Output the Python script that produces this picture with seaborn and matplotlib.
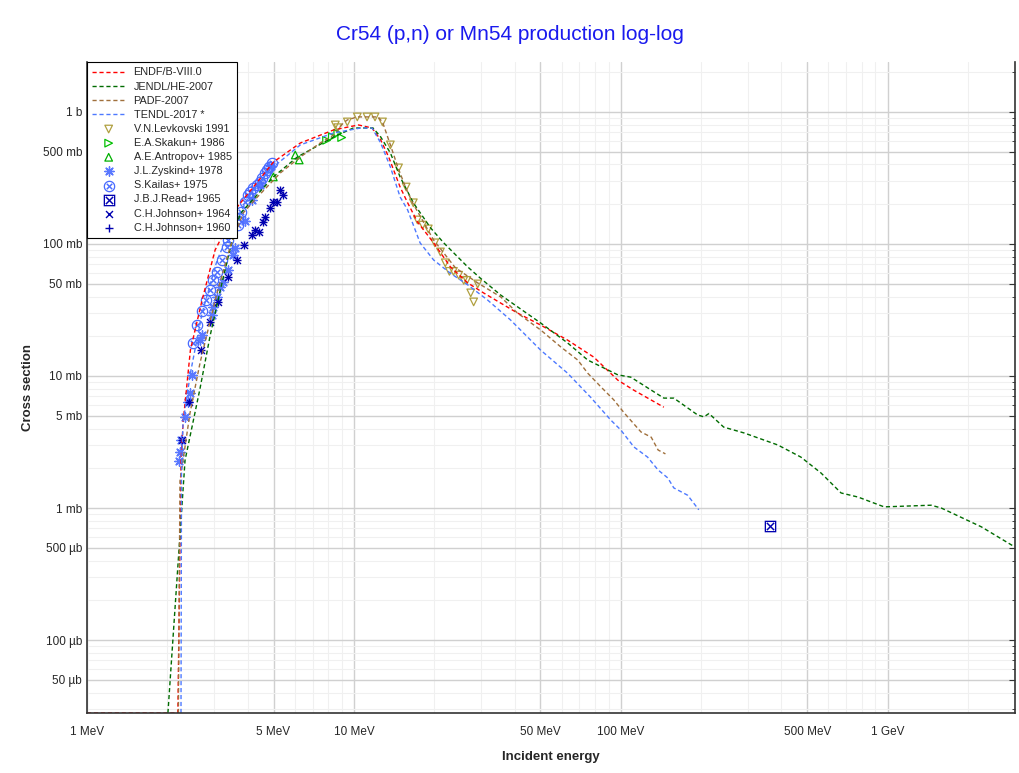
import numpy as np
import matplotlib
matplotlib.use("Agg")
import matplotlib.pyplot as plt
from matplotlib.ticker import FixedLocator, NullFormatter
import seaborn as sns

# evaluated curves: energy in MeV, cross section in mb (0 = below threshold)
endf_e = [1.0, 2.19, 2.22, 2.25, 2.29, 2.44, 2.70, 3.02, 3.65, 5.0, 6.3, 8.4, 10.4, 11.7, 12.6, 13.5,
          14.9, 15.9, 17.3, 19.9, 23.0, 26.7, 30.6, 41.0, 50.1, 63.2, 79.2, 97.5, 112, 145]
endf_xs = [0, 0, 0.25, 2.2, 4.4, 15.7, 37.7, 90, 190, 418, 582, 731, 797, 756, 614, 456,
           270, 205, 147, 102, 67, 50.7, 42.6, 30, 24.3, 18.7, 13.9, 9.3, 7.8, 5.8]

jendl_e = [2.01, 2.33, 2.65, 2.89, 3.16, 3.45, 3.75, 4.99, 6.14, 8.4, 9.95, 11.8, 12.6, 13.7, 14.9,
           16.7, 19.4, 21.7, 26.7, 29.8, 35.5, 50.1, 63.2, 75.2, 97.5, 109, 145, 158, 194, 205, 214,
           243, 290, 388, 473, 563, 669, 775, 970, 1456, 1588, 2244, 2980]
jendl_xs = [0.028, 2.3, 8.0, 20, 45, 95, 170, 322, 456, 647, 756, 756, 647, 489, 322,
            205, 132, 102, 67, 55, 41, 25.2, 17.8, 13.2, 10.2, 9.8, 6.8, 6.8, 5.07, 4.9, 5.2,
            4.1, 3.7, 3.0, 2.43, 1.84, 1.30, 1.21, 1.02, 1.05, 1.0, 0.72, 0.51]

padf_e = [2.20, 2.23, 2.43, 2.65, 2.84, 3.07, 3.44, 3.85, 4.35, 5.3, 6.3, 7.48, 8.4, 9.13, 9.45, 10.3,
          12.3, 12.8, 13.7, 14.6, 15.6, 16.6, 19.9, 24.0, 29.1, 35.5, 41.0, 50.1, 59.6, 69.0, 75.2,
          84.1, 94.1, 103, 119, 130, 138, 147]
padf_xs = [0.028, 1.6, 5.2, 12.5, 22.3, 42.6, 95, 172, 227, 345, 456, 582, 669, 826, 870, 917,
           917, 840, 563, 383, 270, 205, 107, 66, 50.7, 39.7, 30, 22.3, 16.6, 13.2, 10.5,
           8.3, 6.6, 5.25, 3.77, 3.44, 2.75, 2.57]

tendl_e = [2.25, 2.26, 2.29, 2.44, 2.70, 3.07, 3.44, 4.09, 4.99, 6.3, 8.4, 10.6, 11.7, 12.6, 13.7,
           14.9, 15.9, 17.7, 19.9, 23.0, 26.7, 31.7, 38.6, 50.1, 63.2, 77.1, 91.7, 100, 112, 126,
           138, 150, 158, 178, 196]
tendl_xs = [0.028, 2.0, 4.4, 10.5, 30, 75, 128, 235, 383, 563, 693, 756, 756, 582, 383,
            227, 181, 102, 75.6, 60, 49, 37.6, 26.6, 15.7, 10.5, 6.9, 4.64, 3.9, 2.9, 2.43,
            1.94, 1.69, 1.42, 1.25, 0.97]

# experimental data
levk_e = [8.52, 8.7, 9.45, 10.3, 11.2, 12.0, 12.8, 13.7, 14.7, 15.7, 16.7, 17.3, 18.1, 19.0, 20.1,
          21.1, 22.0, 22.8, 23.6, 24.7, 25.8, 26.5, 27.4, 28.1, 29.1]
levk_xs = [797, 760, 840, 917, 917, 917, 840, 563, 377, 270, 205, 152, 139, 130, 102,
           87, 72, 62, 62, 58, 53, 53, 42.6, 36.4, 49.8]
skakun_e = [7.9, 8.3, 8.7, 9.0]
skakun_xs = [610, 650, 690, 640]
antropov_e = [4.99, 6.03, 6.24]
antropov_xs = [322, 472, 433]
zyskind_e = [2.21, 2.23, 2.25, 2.33, 2.39, 2.44, 2.48, 2.65, 2.70, 2.94, 2.97, 3.07, 3.16, 3.24,
             3.38, 3.53, 3.59, 3.9, 4.16, 4.46, 4.9]
zyskind_xs = [2.27, 2.65, 3.27, 4.9, 6.35, 7.4, 10.2, 18.7, 20.5, 29.0, 33.3, 39.7, 47.2, 51.5,
              63.6, 82.6, 93.3, 150, 215, 280, 390]
kailas_e = [2.50, 2.59, 2.70, 2.80, 2.89, 2.97, 3.07, 3.21, 3.35, 3.38, 3.69, 3.69, 3.78, 3.92,
            4.02, 4.09, 4.20, 4.35, 4.46, 4.54, 4.65, 4.73, 4.82, 4.95]
kailas_xs = [17.8, 24.3, 31.1, 37.7, 44.9, 53.3, 61.4, 75.6, 95, 107, 139, 157, 175, 208,
             235, 248, 266, 280, 295, 316, 345, 364, 383, 411]
read_e = [362]
read_xs = [0.73]
johnson_e = [2.27, 2.41, 2.68, 2.89, 3.10, 3.38, 3.66, 3.88, 4.16, 4.27, 4.42, 4.57, 4.65, 4.86,
             4.99, 5.16, 5.30, 5.44]
johnson_xs = [3.3, 6.35, 15.7, 25.6, 36.4, 56.2, 75.6, 98.3, 117, 128, 123, 147, 160, 187,
              208, 208, 257, 235]

y_lo, y_hi = 0.028, 2390
x_lo, x_hi = 1.0, 3000

sns.set_style("white")
plt.rcParams['font.family'] = ['Liberation Sans', 'DejaVu Sans']

fig = plt.figure(figsize=(10.2, 7.73), dpi=100)
ax = fig.add_axes([0.0853, 0.0776, 0.9098, 0.8422])

curves = [
    (endf_e, endf_xs, '#ff0000', 'ENDF/B-VIII.0'),
    (jendl_e, jendl_xs, '#006b00', 'JENDL/HE-2007'),
    (padf_e, padf_xs, '#a0703c', 'PADF-2007'),
    (tendl_e, tendl_xs, '#4d79ff', 'TENDL-2017 *'),
]
for e, xs, c, lab in curves:
    sns.lineplot(x=e, y=np.maximum(xs, y_lo), ax=ax, color=c, lw=1.0,
                 dashes=(3, 2), label=lab, sort=False, estimator=None)

open_pts = [
    (levk_e, levk_xs, '#b0a040', 'v', 'V.N.Levkovski 1991'),
    (skakun_e, skakun_xs, '#00c000', '>', 'E.A.Skakun+ 1986'),
    (antropov_e, antropov_xs, '#00b000', '^', 'A.E.Antropov+ 1985'),
]
for e, xs, c, m, lab in open_pts:
    sns.scatterplot(x=e, y=xs, ax=ax, marker=m, s=30, facecolor='none',
                    edgecolor=c, linewidth=0.9, label=lab)

sns.scatterplot(x=zyskind_e, y=zyskind_xs, ax=ax, marker=(8, 2, 0), s=45,
                color='#5a78ff', linewidth=1.0, label='J.L.Zyskind+ 1978')
sns.scatterplot(x=kailas_e, y=kailas_xs, ax=ax, marker='$\\otimes$', s=70,
                color='#4a6cff', edgecolor='#4a6cff', linewidth=0, label='S.Kailas+ 1975')
sns.scatterplot(x=read_e, y=read_xs, ax=ax, marker='$\\boxtimes$', s=70,
                color='#0000b0', edgecolor='#0000b0', linewidth=0, label='J.B.J.Read+ 1965')
sns.scatterplot(x=johnson_e, y=johnson_xs, ax=ax, marker='x', s=25,
                color='#0000b0', linewidth=1.0, label='C.H.Johnson+ 1964')
sns.scatterplot(x=johnson_e, y=johnson_xs, ax=ax, marker='+', s=40,
                color='#0000b0', linewidth=1.0, label='C.H.Johnson+ 1960')

ax.set_xscale('log')
ax.set_yscale('log')
ax.set_xlim(x_lo, x_hi)
ax.set_ylim(y_lo, y_hi)

x_major = [1, 5, 10, 50, 100, 500, 1000]
x_labels = ['1 MeV', '5 MeV', '10 MeV', '50 MeV', '100 MeV', '500 MeV', '1 GeV']
y_major = [0.05, 0.1, 0.5, 1, 5, 10, 50, 100, 500, 1000]
y_labels = ['50 µb', '100 µb', '500 µb', '1 mb', '5 mb', '10 mb', '50 mb', '100 mb', '500 mb', '1 b']
x_minor = [m * 10 ** k for k in range(0, 4) for m in (2, 3, 4, 6, 7, 8, 9)]
y_minor = [m * 10 ** k for k in range(-2, 4) for m in (2, 3, 4, 6, 7, 8, 9)]

ax.xaxis.set_major_locator(FixedLocator(x_major))
ax.set_xticklabels(x_labels)
ax.xaxis.set_minor_locator(FixedLocator(x_minor))
ax.xaxis.set_minor_formatter(NullFormatter())
ax.yaxis.set_major_locator(FixedLocator(y_major))
ax.set_yticklabels(y_labels)
ax.yaxis.set_minor_locator(FixedLocator(y_minor))
ax.yaxis.set_minor_formatter(NullFormatter())

ax.grid(True, which='major', color='#d0d0d0', lw=1.0)
ax.grid(True, which='minor', color='#f0f0f0', lw=0.8)
ax.set_axisbelow(True)

ax.tick_params(axis='x', which='both', direction='in', length=4, pad=9, labelsize=8.5, color='#333333')
ax.tick_params(axis='y', which='major', direction='out', length=4, labelsize=8.5, color='#333333')
ax.tick_params(axis='y', which='minor', left=False)
ax.tick_params(axis='y', which='both', right=True, direction='in')

for side in ['left', 'bottom', 'right']:
    ax.spines[side].set_color('#333333')
    ax.spines[side].set_linewidth(1.2)
ax.spines['top'].set_visible(False)

ax.set_xlabel('Incident energy', fontsize=9.5, fontweight='bold', labelpad=10)
ax.set_ylabel('Cross section', fontsize=9.5, fontweight='bold', labelpad=6)
fig.text(0.5, 1 - 35 / 773, 'Cr54 (p,n) or Mn54 production log-log', ha='center', va='center',
         fontsize=15, color='#1a1aee')

leg = ax.legend(loc='upper left', fontsize=7.8, frameon=True, fancybox=False, framealpha=1,
                edgecolor='black', borderaxespad=0, handlelength=3.0, labelspacing=0.38,
                borderpad=0.5)
leg.get_frame().set_linewidth(0.8)

fig.savefig('out.png', dpi=100)
